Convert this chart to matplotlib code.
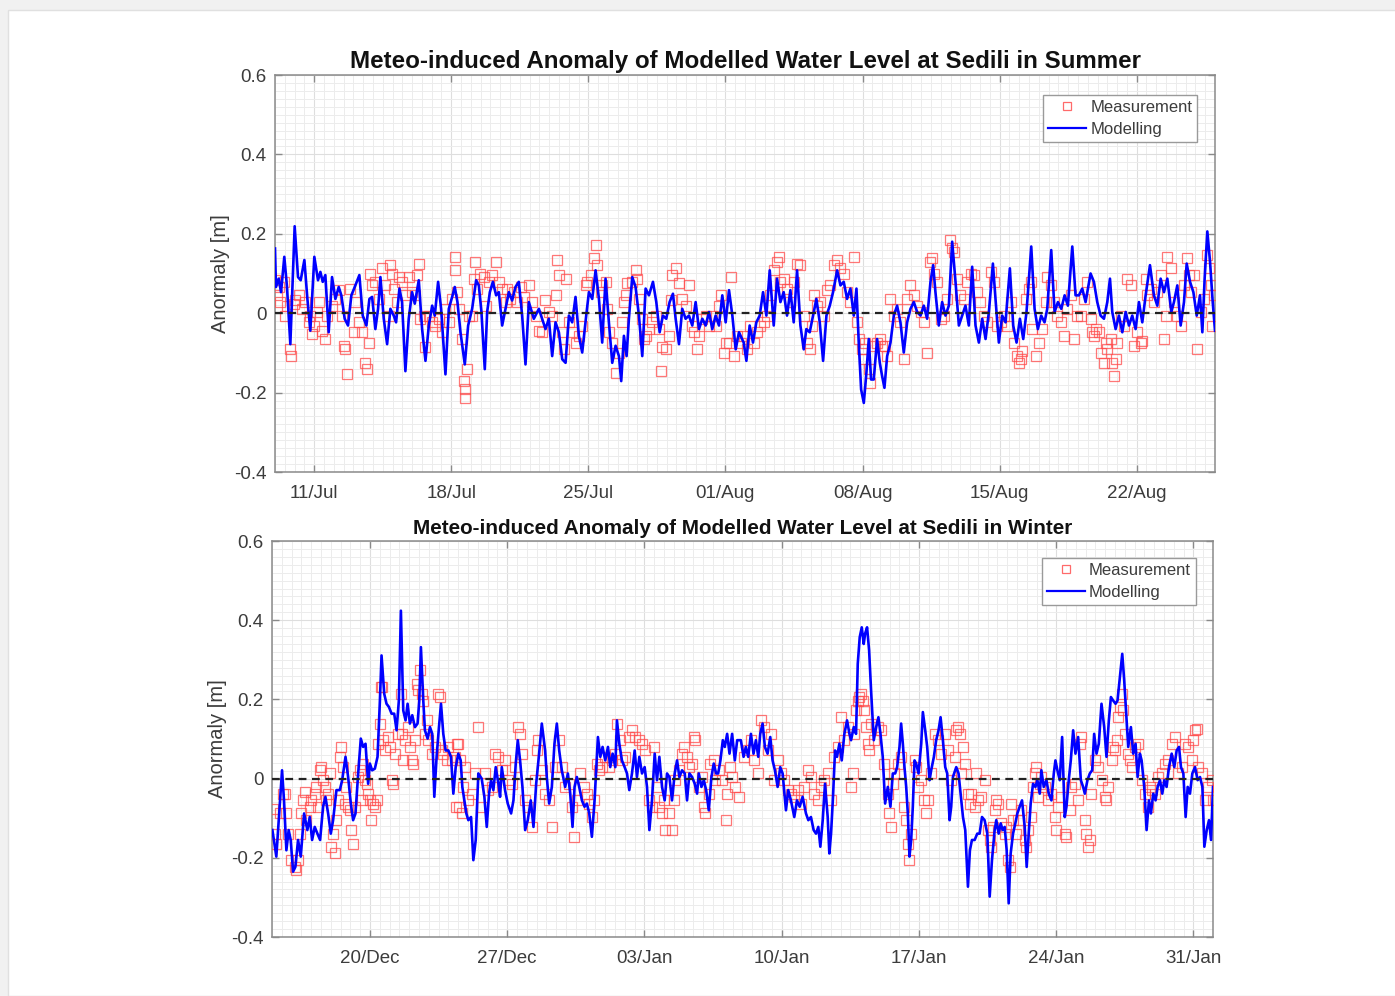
import numpy as np
import pandas as pd
import matplotlib
matplotlib.use("Agg")
import matplotlib.pyplot as plt
import matplotlib.dates as mdates
from matplotlib.patches import Rectangle
from matplotlib.lines import Line2D

plt.rcParams['font.family'] = ['Liberation Sans', 'DejaVu Sans']

# ---------------------------------------------------------------- data
# (hours since panel start, anomaly [m])
SUMMER_START = "2018-07-09"
SUMMER_END = "2018-08-26"
WINTER_START = "2018-12-15"
WINTER_END = "2019-02-01"

SUMMER_TICKS = ["2018-07-11", "2018-07-18", "2018-07-25", "2018-08-01",
                "2018-08-08", "2018-08-15", "2018-08-22"]
WINTER_TICKS = ["2018-12-20", "2018-12-27", "2019-01-03", "2019-01-10",
                "2019-01-17", "2019-01-24", "2019-01-31"]

TITLE_SUMMER = "Meteo-induced Anomaly of Modelled Water Level at Sedili in Summer"
TITLE_WINTER = "Meteo-induced Anomaly of Modelled Water Level at Sedili in Winter"
Y_LABEL = "Anormaly [m]"
LEGEND_LABELS = ["Measurement", "Modelling"]

summer_model = [
    (0, 0.163), (1.2, 0.066), (4.5, 0.087), (7.4, 0.053), (11.4, 0.142), (14.7, 0.066), (18.8, -0.078),
    (24.1, 0.219), (28.2, 0.091), (31.5, 0.083), (36.0, 0.134), (39.7, 0.036), (43.3, -0.044), (48.2, 0.142),
    (52.7, 0.083), (55.6, 0.104), (58.5, 0.079), (61.7, 0.096), (65.8, -0.048), (69.9, 0.091), (74.0, 0.036),
    (78.1, 0.066), (81.3, 0.045), (85.4, -0.014), (89.5, -0.031), (93.6, 0.045), (98.5, 0.070), (103.4, 0.096),
    (107.5, -0.006), (112.0, -0.031), (115.7, 0.036), (119.0, 0.041), (123.0, -0.040), (126.3, 0.011),
    (129.2, 0.091), (133.3, -0.014), (137.4, -0.078), (141.4, 0.011), (145.5, -0.006), (148.4, -0.023),
    (152.5, 0.062), (155.7, 0.028), (159.8, -0.146), (163.9, -0.014), (168.0, 0.053), (171.3, 0.024),
    (176.2, 0.083), (180.3, -0.040), (184.4, -0.120), (188.5, -0.031), (192.6, 0.019), (195.8, -0.006),
    (199.9, 0.079), (203.6, 0.011), (208.9, -0.154), (213.0, 0.011), (217.1, 0.041), (220.3, 0.066),
    (223.6, 0.028), (227.3, -0.048), (232.6, -0.129), (236.7, -0.031), (241.6, 0.011), (246.5, 0.083),
    (249.8, 0.070), (253.0, 0.003), (257.1, -0.141), (260.0, 0.003), (263.3, 0.053), (267.0, 0.079),
    (271.0, 0.045), (274.3, 0.053), (278.4, -0.031), (282.5, 0.011), (286.6, 0.053), (290.6, 0.032),
    (294.7, 0.066), (298.8, 0.079), (302.9, -0.006), (307.0, -0.129), (311.1, 0.028), (317.2, -0.014),
    (323.4, 0.011), (327.4, -0.014), (331.5, -0.040), (335.6, -0.014), (339.7, -0.108), (343.8, -0.023),
    (347.9, -0.048), (352.0, -0.116), (356.1, -0.125), (360.2, -0.006), (364.2, -0.023), (368.3, 0.041),
    (372.4, -0.057), (376.5, -0.099), (381.4, -0.006), (384.7, 0.053), (388.8, 0.036), (392.9, 0.108),
    (397.0, 0.036), (401.0, -0.074), (405.1, 0.087), (409.2, -0.023), (413.3, -0.125), (417.4, -0.082),
    (421.5, -0.108), (424.3, -0.171), (427.6, -0.057), (430.9, -0.108), (433.7, -0.014), (437.8, 0.091),
    (441.9, 0.066), (446.0, -0.006), (450.1, -0.108), (454.2, 0.062), (458.3, 0.045), (463.2, 0.079),
    (467.3, 0.028), (471.4, -0.048), (475.4, -0.006), (479.5, -0.014), (483.6, 0.028), (487.7, 0.049),
    (491.0, -0.014), (495.1, -0.078), (499.1, 0.011), (503.2, -0.014), (507.3, -0.006), (511.4, -0.031),
    (515.5, 0.028), (519.6, -0.040), (523.7, -0.014), (527.8, -0.031), (531.9, 0.003), (535.9, -0.040),
    (540.0, -0.006), (544.1, -0.031), (548.2, 0.045), (552.3, -0.023), (556.4, 0.058), (560.5, -0.006),
    (564.6, -0.091), (568.6, -0.048), (574.4, -0.074), (577.7, -0.120), (581.7, -0.031), (585.8, -0.074),
    (589.9, -0.023), (594.0, -0.006), (598.1, 0.053), (602.2, -0.006), (606.3, 0.108), (611.2, -0.031),
    (615.3, 0.087), (619.4, 0.028), (623.4, 0.053), (627.5, -0.006), (631.6, 0.058), (635.7, -0.023),
    (639.8, 0.108), (643.9, -0.031), (648.0, -0.091), (651.2, -0.040), (655.3, -0.048), (659.4, -0.006),
    (663.5, 0.036), (667.6, -0.023), (671.7, -0.120), (675.8, -0.006), (679.9, 0.019), (683.9, 0.053),
    (688.9, 0.108), (693.0, 0.070), (697.0, 0.079), (701.1, 0.036), (705.2, 0.062), (709.3, -0.006),
    (712.6, 0.062), (715.4, -0.074), (718.3, -0.192), (721.6, -0.226), (724.8, -0.150), (727.7, -0.065),
    (730.5, -0.167), (733.8, -0.167), (737.9, -0.065), (741.2, -0.125), (744.0, -0.158), (746.9, -0.188),
    (750.2, -0.108), (754.3, -0.074), (758.4, -0.006), (762.4, 0.019), (766.5, -0.023), (770.6, -0.099),
    (774.7, -0.023), (778.8, 0.011), (782.9, 0.028), (787.0, 0.003), (791.1, -0.006), (795.1, 0.019),
    (799.2, -0.014), (803.3, 0.079), (806.6, 0.121), (809.4, 0.053), (813.5, -0.031), (817.6, 0.028),
    (821.7, -0.006), (825.8, 0.019), (829.9, 0.180), (834.0, 0.079), (838.1, -0.031), (842.2, -0.006),
    (846.2, 0.019), (850.3, -0.031), (854.4, 0.117), (858.5, -0.031), (862.6, -0.074), (866.7, -0.014),
    (870.8, -0.065), (874.9, 0.003), (879.8, 0.125), (883.0, 0.036), (887.1, -0.074), (891.2, -0.006),
    (895.3, -0.023), (900.6, 0.113), (904.7, -0.031), (908.8, -0.074), (912.9, -0.014), (917.0, -0.065),
    (921.0, 0.003), (926.8, 0.168), (930.9, 0.011), (934.9, -0.040), (939.0, -0.006), (943.1, -0.023),
    (946.4, 0.011), (951.3, 0.159), (955.4, 0.003), (959.5, 0.028), (963.6, 0.011), (967.7, 0.045),
    (971.7, 0.019), (977.1, 0.168), (981.1, 0.045), (985.2, 0.045), (989.3, 0.062), (993.4, 0.028),
    (999.5, 0.100), (1003.6, 0.079), (1007.7, 0.028), (1011.8, -0.006), (1015.9, -0.014), (1020.0, 0.028),
    (1023.3, 0.087), (1026.1, 0.003), (1030.2, -0.040), (1034.3, -0.006), (1038.4, -0.048), (1042.5, 0.003),
    (1046.6, -0.031), (1050.6, -0.006), (1054.7, -0.040), (1058.8, 0.028), (1062.9, -0.023), (1067.0, 0.045),
    (1072.3, 0.121), (1077.2, 0.045), (1081.3, 0.019), (1085.4, 0.087), (1089.5, 0.053), (1093.6, 0.087),
    (1098.5, 0.003), (1101.7, 0.028), (1105.8, 0.070), (1109.9, -0.031), (1114.0, 0.028), (1117.3, 0.125),
    (1121.4, 0.079), (1125.5, 0.053), (1129.6, -0.006), (1133.6, 0.045), (1136.5, -0.048), (1139.3, 0.087),
    (1142.6, 0.206), (1145.9, 0.130), (1149.2, 0.028), (1152.0, -0.044),
]

summer_meas = [
    (0.5, 0.083), (2.4, 0.045), (4.5, 0.066), (6.5, 0.028), (10.6, 0.079), (12.7, -0.006), (14.7, 0.019),
    (18.8, -0.091), (19.5, -0.108), (22.9, 0.024), (25.0, 0.032), (29.0, 0.045), (33.1, 0.011), (37.2, 0.028),
    (41.3, -0.023), (43.3, -0.006), (45.4, -0.053), (47.4, -0.031), (51.5, 0.003), (53.6, 0.028),
    (57.6, -0.044), (61.7, -0.065), (63.8, -0.006), (69.9, 0.019), (74.0, 0.036), (78.1, 0.058),
    (82.2, -0.006), (84.2, -0.082), (86.3, -0.091), (88.3, -0.154), (92.4, 0.062), (96.5, -0.048),
    (98.5, 0.028), (102.6, -0.023), (106.7, -0.048), (110.8, -0.125), (112.8, -0.141), (114.9, -0.074),
    (116.9, 0.100), (119.0, 0.070), (123.0, 0.079), (127.1, 0.036), (131.2, 0.113), (135.3, 0.070),
    (139.4, -0.006), (141.4, 0.121), (143.5, 0.100), (145.5, 0.062), (149.6, 0.028), (151.7, 0.091),
    (155.7, 0.079), (159.8, 0.045), (163.9, 0.091), (168.0, 0.053), (172.1, 0.045), (174.1, 0.096),
    (176.2, 0.125), (178.2, -0.014), (182.3, -0.006), (184.4, -0.086), (188.5, -0.006), (192.6, -0.023),
    (196.6, -0.031), (200.7, -0.014), (204.8, -0.048), (208.9, 0.011), (213.0, -0.023), (217.1, 0.036),
    (220.3, 0.142), (221.0, 0.108), (223.2, 0.053), (225.2, 0.011), (229.3, -0.065), (231.4, -0.171),
    (232.6, -0.192), (233.4, -0.214), (235.5, -0.141), (237.5, -0.006), (241.6, -0.006), (243.6, 0.087),
    (245.7, 0.130), (247.7, 0.062), (251.8, 0.100), (255.9, 0.091), (258.0, 0.019), (262.0, 0.079),
    (266.1, 0.096), (271.0, 0.130), (274.3, 0.079), (278.4, 0.062), (282.5, 0.028), (284.5, 0.062),
    (288.6, 0.036), (292.7, 0.053), (296.8, 0.028), (300.9, 0.066), (305.0, 0.041), (311.1, 0.070),
    (315.2, 0.028), (319.3, -0.006), (323.4, -0.044), (327.4, -0.048), (331.5, 0.032), (335.6, 0.003),
    (339.7, -0.006), (343.8, 0.045), (345.8, 0.134), (347.9, 0.096), (352.0, -0.048), (354.0, -0.091),
    (356.1, 0.087), (360.2, -0.023), (364.2, -0.048), (368.3, -0.074), (372.4, -0.057), (376.5, -0.031),
    (380.6, 0.070), (382.6, 0.079), (386.7, 0.096), (390.8, 0.138), (392.9, 0.172), (394.9, 0.121),
    (399.0, 0.053), (401.0, 0.070), (405.1, 0.079), (407.2, 0.011), (409.2, -0.048), (413.3, -0.074),
    (417.4, -0.150), (421.5, -0.099), (425.6, -0.023), (427.6, 0.028), (429.7, 0.045), (431.7, 0.075),
    (437.8, 0.079), (441.9, 0.108), (444.0, 0.087), (446.0, 0.036), (450.1, -0.014), (452.1, -0.065),
    (454.2, -0.057), (458.3, -0.040), (462.4, -0.023), (466.4, -0.006), (470.5, -0.040), (472.6, -0.146),
    (474.6, -0.086), (478.7, -0.091), (482.8, -0.057), (484.8, 0.032), (486.9, 0.096), (491.0, 0.113),
    (495.1, 0.075), (499.1, 0.036), (503.2, 0.019), (507.3, 0.070), (511.4, -0.031), (513.4, -0.048),
    (517.5, -0.091), (519.6, -0.057), (523.7, -0.014), (527.8, -0.006), (531.9, -0.031), (535.9, -0.006),
    (540.0, -0.031), (544.1, 0.019), (546.2, 0.045), (550.2, -0.099), (552.3, -0.074), (556.4, -0.074),
    (558.4, 0.091), (562.5, -0.108), (566.6, -0.057), (570.7, -0.074), (574.4, -0.057), (578.5, -0.091),
    (582.6, -0.031), (586.7, -0.074), (590.7, -0.048), (594.8, -0.031), (598.9, -0.023), (603.0, -0.006),
    (607.1, 0.045), (611.2, 0.108), (615.3, 0.130), (617.3, 0.142), (619.4, 0.079), (623.4, 0.087),
    (627.5, 0.062), (631.6, 0.028), (635.7, 0.079), (639.8, 0.125), (643.9, 0.121), (648.0, -0.006),
    (652.1, -0.074), (656.1, -0.091), (658.2, -0.031), (660.2, 0.045), (664.3, 0.019), (668.4, 0.028),
    (672.5, -0.006), (676.6, 0.058), (680.7, 0.070), (684.8, 0.121), (688.9, 0.134), (693.0, 0.113),
    (697.0, 0.100), (701.1, 0.053), (705.2, 0.028), (709.3, 0.142), (713.4, -0.023), (715.4, -0.065),
    (719.5, -0.091), (721.6, -0.116), (723.6, -0.074), (727.7, -0.141), (729.7, -0.175), (733.8, -0.082),
    (737.9, -0.074), (742.0, -0.065), (744.0, -0.082), (748.1, -0.082), (750.2, -0.108), (754.3, 0.036),
    (758.4, -0.006), (762.4, 0.011), (766.5, -0.023), (770.6, -0.116), (774.7, 0.036), (778.8, 0.070),
    (782.9, 0.045), (787.0, 0.019), (791.1, 0.003), (795.1, -0.023), (799.2, -0.099), (803.3, 0.130),
    (805.4, 0.138), (807.4, 0.100), (811.5, 0.079), (815.6, -0.014), (819.7, -0.006), (823.8, 0.036),
    (827.8, 0.185), (829.9, 0.164), (831.9, 0.155), (836.0, 0.087), (840.1, 0.045), (844.2, 0.036),
    (848.3, 0.079), (852.4, 0.100), (856.5, 0.096), (860.5, 0.053), (864.6, 0.028), (868.7, -0.006),
    (872.8, -0.023), (876.9, 0.104), (881.0, 0.079), (885.1, -0.031), (889.2, -0.023), (893.3, -0.006),
    (897.3, -0.031), (901.4, 0.028), (905.5, -0.074), (909.6, -0.108), (911.6, -0.125), (913.7, -0.116),
    (915.7, -0.095), (919.8, 0.036), (923.9, 0.062), (926.0, 0.079), (928.0, -0.040), (932.1, -0.108),
    (936.2, -0.074), (940.3, -0.040), (944.4, 0.028), (946.4, 0.091), (950.5, 0.070), (954.6, 0.028),
    (958.7, -0.006), (962.7, -0.023), (966.8, -0.057), (970.9, 0.011), (975.0, 0.045), (979.1, -0.065),
    (983.2, -0.006), (987.3, -0.006), (991.4, 0.036), (995.5, 0.079), (999.5, -0.014), (1001.6, -0.048),
    (1003.6, -0.057), (1005.7, -0.040), (1009.8, -0.048), (1011.8, -0.099), (1015.9, -0.125), (1018.0, -0.074),
    (1020.0, -0.091), (1024.1, -0.065), (1026.1, -0.125), (1028.2, -0.158), (1030.2, -0.116), (1032.3, -0.074),
    (1036.3, -0.006), (1040.4, -0.031), (1044.5, 0.087), (1048.6, 0.070), (1052.7, -0.082), (1056.8, -0.048),
    (1060.9, -0.074), (1062.9, -0.069), (1067.0, 0.087), (1069.0, 0.045), (1073.1, 0.062), (1077.2, 0.028),
    (1081.3, 0.053), (1085.4, 0.096), (1089.5, -0.065), (1091.5, -0.006), (1093.6, 0.142), (1097.7, 0.113),
    (1101.7, 0.028), (1105.8, -0.006), (1109.9, -0.031), (1114.0, 0.070), (1118.1, 0.138), (1120.1, 0.096),
    (1122.2, 0.053), (1126.3, 0.096), (1130.4, -0.091), (1134.4, 0.003), (1138.5, 0.036), (1142.6, 0.147),
    (1144.6, 0.113), (1146.7, 0.070), (1148.7, -0.031), (1150.8, 0.045),
]

winter_model = [
    (0.5, -0.130), (5.3, -0.197), (9.4, -0.071), (12.3, 0.021), (14.7, -0.055), (17.6, -0.181), (20.4, -0.130),
    (22.9, -0.155), (25.8, -0.235), (28.6, -0.223), (31.9, -0.155), (35.2, -0.197), (39.3, -0.088),
    (43.3, -0.130), (46.2, -0.097), (49.1, -0.155), (52.3, -0.122), (55.6, -0.139), (58.9, -0.155),
    (62.5, -0.071), (65.4, -0.046), (68.7, -0.088), (72.0, -0.139), (74.8, -0.105), (78.9, -0.029),
    (83.0, -0.029), (85.9, -0.004), (90.0, 0.055), (93.2, 0.004), (96.5, -0.063), (99.3, -0.105),
    (102.2, -0.088), (105.5, 0.013), (108.7, 0.101), (111.6, 0.080), (114.5, 0.088), (117.7, -0.013),
    (119.8, 0.038), (122.6, 0.021), (125.9, 0.025), (129.2, 0.055), (132.1, 0.197), (134.1, 0.311),
    (137.4, 0.214), (140.2, 0.189), (143.1, 0.181), (146.4, 0.164), (149.6, 0.164), (152.5, 0.122),
    (155.3, 0.197), (157.8, 0.424), (160.7, 0.172), (163.5, 0.147), (166.0, 0.189), (168.8, 0.139),
    (171.7, 0.160), (175.0, 0.130), (178.2, 0.139), (180.3, 0.197), (182.3, 0.332), (185.2, 0.197),
    (187.2, 0.122), (190.5, 0.101), (193.4, 0.130), (196.2, 0.113), (198.7, -0.046), (201.5, 0.055),
    (204.4, 0.130), (206.9, 0.189), (209.7, 0.113), (212.6, 0.071), (215.9, 0.071), (219.1, 0.055),
    (222.0, -0.038), (224.9, 0.029), (228.1, 0.063), (231.0, 0.046), (233.0, -0.021), (235.5, -0.055),
    (237.9, -0.088), (240.4, -0.105), (243.7, -0.097), (246.5, -0.206), (249.4, -0.155), (252.6, 0.013),
    (256.7, 0.000), (260.0, -0.046), (262.9, -0.122), (265.7, -0.038), (268.2, -0.004), (271.0, -0.029),
    (273.9, 0.029), (277.2, -0.013), (279.2, -0.046), (281.3, 0.029), (285.3, -0.029), (288.6, -0.063),
    (292.7, -0.088), (295.6, -0.055), (298.4, 0.038), (300.9, 0.097), (303.7, 0.046), (306.6, -0.021),
    (309.9, -0.130), (313.1, -0.105), (316.8, -0.055), (320.1, -0.122), (323.4, -0.013), (327.0, 0.063),
    (330.3, 0.139), (334.4, 0.071), (336.4, 0.004), (339.3, -0.063), (342.6, -0.021), (345.8, 0.088),
    (348.7, 0.139), (351.6, 0.071), (354.8, 0.021), (358.9, -0.021), (362.2, 0.013), (365.1, -0.038),
    (367.9, -0.122), (370.4, -0.021), (373.2, 0.004), (376.1, -0.021), (379.4, -0.055), (382.6, -0.071),
    (385.5, -0.063), (388.4, -0.088), (391.6, -0.147), (394.9, -0.055), (399.0, 0.105), (401.9, 0.055),
    (404.7, 0.080), (408.0, 0.046), (411.3, 0.080), (414.1, 0.029), (417.0, 0.063), (420.3, 0.029),
    (422.3, 0.147), (425.2, 0.088), (428.4, 0.046), (431.7, 0.029), (434.6, 0.013), (437.4, -0.029),
    (440.7, 0.013), (444.0, 0.071), (446.8, 0.004), (449.7, 0.055), (453.0, 0.013), (456.2, 0.029),
    (459.1, -0.021), (462.0, -0.130), (465.2, -0.055), (468.5, 0.063), (471.3, -0.004), (474.2, 0.055),
    (477.5, -0.021), (480.7, -0.055), (483.6, 0.013), (486.5, 0.004), (489.7, -0.055), (493.0, 0.013),
    (495.9, 0.046), (498.7, 0.004), (502.0, 0.021), (505.3, 0.013), (508.1, -0.055), (511.0, 0.013),
    (514.3, 0.004), (517.5, -0.013), (520.4, -0.038), (522.5, 0.013), (525.7, -0.021), (528.6, -0.004),
    (531.5, -0.029), (534.7, -0.080), (538.0, 0.004), (540.8, 0.038), (543.7, 0.013), (546.2, 0.013),
    (549.0, 0.046), (551.9, 0.097), (554.3, 0.080), (557.2, 0.113), (560.1, 0.063), (563.3, 0.113),
    (566.6, 0.046), (569.5, 0.097), (574.0, 0.097), (577.3, 0.055), (580.1, 0.080), (583.0, 0.055),
    (586.3, 0.113), (589.5, 0.063), (592.4, 0.097), (595.3, 0.055), (597.7, 0.113), (600.6, 0.139),
    (603.4, 0.080), (606.7, 0.063), (610.0, 0.105), (612.8, 0.046), (615.7, 0.021), (619.0, -0.021),
    (622.2, 0.029), (625.1, 0.013), (629.2, -0.080), (632.0, -0.029), (635.3, -0.055), (639.4, -0.097),
    (642.7, -0.055), (646.0, -0.071), (649.6, -0.046), (653.7, -0.088), (656.6, -0.105), (659.8, -0.097),
    (663.1, -0.130), (666.0, -0.139), (668.8, -0.122), (671.3, -0.172), (674.2, -0.105), (677.0, -0.013),
    (680.3, -0.097), (682.3, -0.189), (684.4, -0.139), (686.8, -0.046), (689.3, 0.071), (691.7, 0.055),
    (694.6, 0.088), (697.5, 0.046), (700.7, 0.113), (704.0, 0.147), (706.9, 0.113), (708.9, 0.097),
    (712.2, 0.130), (715.0, 0.113), (717.1, 0.290), (719.5, 0.357), (722.0, 0.382), (724.4, 0.340),
    (726.1, 0.366), (728.5, 0.382), (731.0, 0.324), (733.4, 0.223), (736.7, 0.097), (739.6, 0.130),
    (742.4, 0.155), (744.9, 0.113), (747.7, 0.055), (750.6, -0.063), (753.9, -0.021), (757.1, -0.071),
    (760.0, 0.013), (762.9, 0.013), (765.3, 0.029), (768.2, 0.080), (770.2, 0.139), (772.3, 0.088),
    (774.3, 0.029), (776.4, -0.021), (778.4, -0.088), (780.4, -0.197), (782.5, -0.155), (784.5, -0.071),
    (786.6, 0.046), (788.6, 0.038), (791.5, 0.013), (794.8, 0.088), (796.8, 0.168), (799.7, 0.122),
    (802.1, 0.080), (805.0, -0.004), (807.0, 0.021), (810.3, 0.055), (813.1, 0.097), (816.0, 0.122),
    (818.5, 0.155), (821.3, 0.097), (824.2, 0.029), (826.6, 0.013), (829.5, -0.105), (831.5, -0.071),
    (833.6, 0.004), (837.7, 0.029), (840.5, 0.013), (843.8, -0.055), (845.9, -0.097), (848.7, -0.130),
    (852.0, -0.273), (854.4, -0.181), (856.9, -0.155), (860.2, -0.155), (863.4, -0.139), (866.3, -0.139),
    (869.2, -0.097), (872.4, -0.105), (875.7, -0.139), (878.6, -0.298), (881.4, -0.206), (884.7, -0.130),
    (886.7, -0.105), (889.6, -0.139), (892.1, -0.113), (894.5, -0.130), (897.0, -0.122), (899.4, -0.181),
    (901.9, -0.315), (904.3, -0.189), (907.2, -0.139), (910.0, -0.113), (912.5, -0.088), (915.3, -0.071),
    (918.2, -0.055), (921.5, -0.122), (923.9, -0.223), (926.4, -0.139), (928.8, -0.063), (931.7, -0.013),
    (934.6, -0.021), (937.0, -0.004), (939.9, -0.038), (941.9, 0.021), (944.8, -0.021), (948.1, -0.004),
    (950.9, -0.038), (954.2, -0.055), (957.1, 0.013), (959.1, 0.046), (961.5, 0.021), (964.4, -0.004),
    (967.3, 0.105), (970.5, -0.097), (972.6, -0.071), (975.4, -0.004), (977.9, 0.046), (980.8, 0.122),
    (983.6, 0.063), (986.9, 0.105), (990.2, -0.004), (993.0, -0.021), (995.1, -0.038), (998.3, -0.004),
    (1001.2, 0.013), (1004.1, 0.021), (1006.5, 0.113), (1009.4, 0.063), (1012.2, 0.088), (1015.5, 0.189),
    (1018.8, 0.130), (1021.6, 0.055), (1024.5, 0.147), (1027.0, 0.206), (1029.8, 0.197), (1032.7, 0.189),
    (1035.1, 0.197), (1038.0, 0.256), (1040.9, 0.315), (1043.3, 0.248), (1046.2, 0.147), (1048.2, 0.080),
    (1051.5, 0.130), (1054.3, 0.063), (1057.2, 0.088), (1059.7, 0.004), (1062.5, 0.063), (1064.6, 0.046),
    (1067.8, -0.021), (1070.7, -0.130), (1073.6, -0.055), (1076.0, -0.088), (1078.9, -0.038), (1081.7, -0.055),
    (1084.2, -0.021), (1087.1, -0.004), (1089.9, -0.038), (1092.4, -0.004), (1095.2, -0.021), (1098.1, 0.029),
    (1101.4, 0.063), (1104.6, 0.029), (1107.5, 0.071), (1110.4, 0.080), (1112.8, 0.029), (1115.7, 0.013),
    (1118.5, -0.097), (1121.0, -0.021), (1123.8, -0.038), (1126.7, 0.013), (1130.0, 0.029), (1133.2, -0.004),
    (1136.1, 0.004), (1139.0, -0.021), (1141.4, -0.172), (1144.3, -0.130), (1147.1, -0.105), (1149.6, -0.155),
    (1152.0, -0.021),
]

winter_meas = [
    (1.2, -0.076), (3.3, -0.139), (5.3, -0.164), (9.4, -0.088), (13.5, -0.038), (15.5, -0.038), (17.6, -0.088),
    (19.6, -0.139), (23.7, -0.206), (27.8, -0.223), (29.8, -0.231), (31.9, -0.206), (33.9, -0.139),
    (36.0, -0.088), (38.0, -0.055), (40.1, -0.034), (42.1, -0.105), (46.2, -0.071), (48.2, -0.055),
    (52.3, -0.038), (54.4, -0.021), (56.4, -0.071), (58.5, 0.021), (60.5, 0.029), (62.6, -0.004),
    (64.6, -0.021), (66.6, -0.055), (68.7, -0.038), (70.7, 0.013), (72.8, -0.172), (74.8, -0.139),
    (76.9, -0.189), (78.9, -0.105), (81.0, -0.055), (83.0, 0.055), (85.0, 0.080), (87.1, 0.029),
    (89.1, -0.063), (91.2, -0.021), (93.2, -0.071), (95.3, -0.080), (97.3, -0.130), (99.3, -0.164),
    (101.4, -0.071), (105.5, 0.004), (107.5, 0.021), (109.6, -0.055), (111.6, 0.038), (113.7, -0.004),
    (115.7, -0.013), (117.7, -0.038), (119.8, -0.055), (121.8, -0.105), (123.9, -0.063), (125.9, -0.071),
    (128.0, -0.055), (130.0, 0.088), (132.1, 0.139), (133.3, 0.231), (134.9, 0.231), (136.1, 0.097),
    (138.2, 0.071), (142.3, 0.105), (144.3, 0.080), (146.4, -0.004), (148.4, -0.013), (150.4, 0.063),
    (154.5, 0.113), (157.8, 0.214), (158.6, 0.113), (160.7, 0.046), (162.7, 0.097), (166.8, 0.130),
    (168.8, 0.080), (170.9, 0.046), (172.9, 0.038), (175.0, 0.097), (177.0, 0.239), (179.1, 0.223),
    (181.1, 0.273), (183.1, 0.214), (185.2, 0.197), (187.2, 0.113), (189.3, 0.147), (191.3, 0.097),
    (195.4, 0.063), (199.5, 0.080), (203.6, 0.214), (205.6, 0.206), (207.7, 0.071), (209.7, 0.063),
    (213.8, 0.046), (215.9, 0.080), (219.9, 0.046), (224.0, 0.055), (224.8, -0.071), (226.1, 0.088),
    (228.1, 0.088), (228.9, -0.071), (230.2, 0.046), (232.2, -0.088), (234.2, -0.021), (236.3, 0.029),
    (240.4, -0.055), (244.5, -0.038), (248.6, 0.013), (251.8, 0.130), (256.7, -0.071), (260.8, 0.013),
    (264.9, -0.029), (269.0, -0.021), (273.1, 0.063), (277.2, 0.055), (281.3, 0.021), (285.3, 0.046),
    (289.4, -0.004), (293.5, -0.013), (297.6, 0.029), (300.9, 0.130), (303.7, 0.113), (305.8, 0.063),
    (309.9, -0.055), (314.0, -0.071), (318.1, -0.122), (322.1, -0.004), (324.2, 0.071), (326.2, 0.097),
    (330.3, 0.021), (334.4, -0.038), (338.5, -0.055), (342.6, -0.122), (346.7, 0.029), (350.8, 0.097),
    (354.8, 0.029), (358.9, -0.021), (363.0, -0.013), (367.1, -0.071), (369.2, -0.147), (373.2, -0.055),
    (377.3, 0.013), (381.4, -0.021), (385.5, -0.038), (387.5, -0.063), (391.6, -0.097), (393.7, -0.055),
    (397.8, 0.038), (399.8, 0.021), (403.9, 0.029), (408.0, 0.055), (412.1, 0.029), (416.2, 0.046),
    (420.3, 0.063), (422.3, 0.139), (426.4, 0.097), (428.4, 0.046), (432.5, 0.055), (436.6, 0.105),
    (440.7, 0.122), (444.8, 0.105), (448.9, 0.097), (453.0, 0.088), (457.1, 0.071), (461.2, -0.055),
    (465.2, -0.071), (467.3, 0.080), (471.3, -0.021), (473.4, -0.071), (477.5, -0.088), (479.5, -0.055),
    (481.6, -0.130), (485.7, -0.088), (489.7, -0.130), (491.8, -0.055), (493.8, -0.004), (497.9, 0.021),
    (502.0, 0.063), (504.0, 0.080), (508.1, 0.055), (510.2, 0.029), (514.3, 0.038), (516.3, 0.105),
    (518.4, 0.097), (522.5, -0.021), (526.5, 0.004), (528.6, -0.071), (530.6, -0.088), (534.7, -0.038),
    (536.8, 0.038), (540.8, 0.046), (542.9, -0.004), (547.0, 0.021), (551.1, -0.004), (555.2, -0.105),
    (557.2, -0.038), (561.3, 0.029), (563.3, 0.004), (567.4, -0.021), (571.5, -0.046), (578.1, 0.055),
    (582.2, 0.071), (586.3, 0.097), (590.4, 0.046), (594.4, 0.013), (598.5, 0.147), (602.6, 0.130),
    (606.7, 0.071), (610.8, 0.113), (614.9, -0.004), (619.0, 0.046), (623.1, 0.013), (627.1, -0.004),
    (631.2, -0.029), (635.3, -0.038), (639.4, -0.046), (643.5, -0.029), (647.6, -0.063), (651.7, -0.021),
    (655.8, 0.021), (659.8, 0.004), (663.9, -0.038), (668.0, -0.055), (672.1, -0.021), (676.2, -0.004),
    (680.3, 0.013), (684.4, -0.055), (688.5, 0.055), (692.6, 0.080), (696.6, 0.155), (700.7, 0.097),
    (704.8, 0.130), (708.9, -0.021), (711.0, 0.013), (713.0, 0.113), (715.0, 0.172), (717.1, 0.197),
    (719.1, 0.206), (721.2, 0.214), (723.2, 0.197), (725.3, 0.172), (727.3, 0.130), (729.3, 0.088),
    (731.4, 0.071), (733.4, 0.139), (737.5, 0.097), (741.6, 0.130), (745.7, 0.122), (749.8, 0.038),
    (753.9, -0.038), (755.9, -0.088), (758.0, -0.122), (760.0, -0.013), (762.0, 0.013), (766.1, 0.038),
    (770.2, 0.055), (774.3, -0.071), (776.4, -0.105), (778.4, -0.164), (780.4, -0.206), (782.5, -0.139),
    (786.6, 0.046), (788.6, 0.029), (790.7, -0.021), (794.8, -0.004), (798.8, -0.055), (800.9, -0.088),
    (802.9, -0.055), (807.0, 0.013), (811.1, 0.113), (815.2, 0.097), (819.3, 0.063), (823.4, 0.113),
    (827.5, 0.071), (831.5, -0.004), (835.6, 0.055), (837.7, 0.122), (839.7, 0.130), (841.8, 0.113),
    (843.8, 0.013), (845.9, 0.080), (847.9, 0.038), (852.0, -0.038), (854.0, -0.063), (856.1, -0.038),
    (860.2, -0.071), (862.2, 0.013), (864.2, -0.055), (868.3, -0.046), (872.4, -0.004), (876.5, -0.130),
    (878.6, -0.155), (880.6, -0.172), (882.6, -0.122), (884.7, -0.080), (886.7, -0.055), (888.8, -0.063),
    (892.9, -0.113), (897.0, -0.139), (899.0, -0.122), (901.0, -0.206), (903.1, -0.223), (905.1, -0.063),
    (907.2, -0.105), (911.3, -0.139), (913.3, -0.105), (917.4, -0.080), (921.5, -0.155), (923.5, -0.172),
    (925.6, -0.130), (929.7, -0.097), (931.7, -0.021), (933.7, 0.013), (935.8, 0.029), (937.8, -0.046),
    (939.9, -0.013), (941.9, 0.004), (946.0, -0.021), (950.1, -0.055), (954.2, -0.038), (958.3, -0.097),
    (960.3, -0.130), (962.4, -0.071), (966.4, -0.046), (970.5, -0.139), (972.6, -0.147), (976.7, -0.080),
    (978.7, -0.021), (982.8, -0.013), (986.9, -0.055), (988.9, 0.088), (991.0, 0.105), (995.1, -0.105),
    (997.1, -0.139), (999.2, -0.172), (1001.2, -0.155), (1003.2, -0.038), (1007.3, 0.046), (1011.4, 0.029),
    (1015.5, -0.004), (1019.6, -0.046), (1021.6, -0.055), (1023.7, -0.021), (1027.8, 0.046), (1029.8, 0.080),
    (1031.9, 0.071), (1033.9, 0.097), (1035.9, 0.155), (1038.0, 0.181), (1040.0, 0.214), (1042.1, 0.172),
    (1044.1, 0.113), (1048.2, 0.063), (1050.3, 0.046), (1052.3, 0.029), (1056.4, 0.080), (1060.5, 0.088),
    (1064.6, -0.004), (1068.6, -0.038), (1072.7, -0.071), (1074.8, -0.021), (1076.8, -0.029), (1080.9, -0.038),
    (1085.0, 0.004), (1089.1, 0.013), (1093.2, 0.038), (1097.3, 0.046), (1101.4, 0.088), (1105.4, 0.105),
    (1109.5, 0.013), (1113.6, 0.029), (1117.7, 0.088), (1121.8, 0.080), (1125.9, 0.046), (1127.9, 0.097),
    (1130.0, 0.122), (1132.0, 0.126), (1134.1, 0.029), (1138.1, 0.013), (1142.2, -0.055), (1146.3, -0.021),
    (1150.4, -0.004), (1152.4, -0.055),
]

# ---------------------------------------------------------------- style
W, H = 1395, 996
SPINE = "#8a8a8a"
TXT = "#3c3c3c"

fig = plt.figure(figsize=(W / 100, H / 100), dpi=100)
fig.patch.set_facecolor("#f1f1f1")
fig.add_artist(Rectangle((8 / W, 0), 1, 1 - 10 / H, transform=fig.transFigure,
                         facecolor="white", edgecolor="#e0e0e0", lw=1.0, zorder=0))


def times(start, hours):
    return pd.Timestamp(start) + pd.to_timedelta(np.asarray(hours, dtype=float), unit="h")


def panel(rect, start, end, model, meas, ticks, title, title_fs, leg_anchor):
    ax = fig.add_axes(rect)
    mh, mv = zip(*model)
    oh, ov = zip(*meas)
    ax.plot(times(start, oh), ov, linestyle="none", marker="s", markersize=7,
            markerfacecolor="none", markeredgecolor="#ff4a4a", markeredgewidth=0.9,
            alpha=0.75, zorder=3)
    ax.plot(times(start, mh), mv, color="#0000ff", lw=1.9, zorder=4)
    ax.axhline(0, color="#222222", lw=1.6, ls=(0, (3.5, 2.5)), zorder=5)

    ax.set_xlim(pd.Timestamp(start), pd.Timestamp(end))
    ax.set_ylim(-0.4, 0.6)
    ax.set_yticks([-0.4, -0.2, 0, 0.2, 0.4, 0.6])
    ax.set_yticklabels(["-0.4", "-0.2", "0", "0.2", "0.4", "0.6"])
    ax.set_yticks(np.arange(-0.4, 0.6001, 0.02), minor=True)
    tk = pd.to_datetime(ticks)
    ax.set_xticks(tk)
    ax.set_xticklabels([t.strftime("%d/%b") for t in tk])
    ax.xaxis.set_minor_locator(mdates.HourLocator(byhour=[0, 12]))

    ax.grid(True, which="minor", color="#ececec", lw=0.7)
    ax.grid(True, which="major", color="#dedede", lw=0.8)
    ax.set_axisbelow(True)
    for s in ax.spines.values():
        s.set_color(SPINE)
        s.set_linewidth(1.1)
    ax.tick_params(which="major", direction="in", length=5, width=1.0, color=SPINE,
                   top=True, right=True, labelsize=13.5, labelcolor=TXT)
    ax.tick_params(axis="x", which="major", pad=9)
    ax.tick_params(axis="y", which="major", pad=6)
    ax.tick_params(which="minor", length=0, top=True, right=True)
    ax.set_ylabel(Y_LABEL, fontsize=14.5, color=TXT, labelpad=3)
    ax.set_title(title, fontsize=title_fs, fontweight="bold", color="#111111", pad=5)

    handles = [Line2D([], [], ls="none", marker="s", markersize=6, markerfacecolor="none",
                      markeredgecolor="#ff6a6a", markeredgewidth=0.9),
               Line2D([], [], color="#0000ff", lw=1.6)]
    leg = ax.legend(handles, LEGEND_LABELS, loc="upper right", fontsize=12,
                    frameon=True, fancybox=False, framealpha=1, edgecolor="#9a9a9a",
                    borderpad=0.3, handlelength=2.3, handletextpad=0.25,
                    labelspacing=0.42, borderaxespad=0.0, bbox_to_anchor=leg_anchor)
    leg.get_frame().set_linewidth(1.0)
    for t in leg.get_texts():
        t.set_color(TXT)
    return ax


panel([275 / W, 1 - 472 / H, 940 / W, 397 / H], SUMMER_START, SUMMER_END,
      summer_model, summer_meas, SUMMER_TICKS, TITLE_SUMMER, 17.4, (0.981, 0.95))
panel([272 / W, 1 - 937 / H, 941 / W, 396 / H], WINTER_START, WINTER_END,
      winter_model, winter_meas, WINTER_TICKS, TITLE_WINTER, 14.9, (0.982, 0.957))

fig.savefig("out.png", dpi=100, facecolor=fig.get_facecolor())
